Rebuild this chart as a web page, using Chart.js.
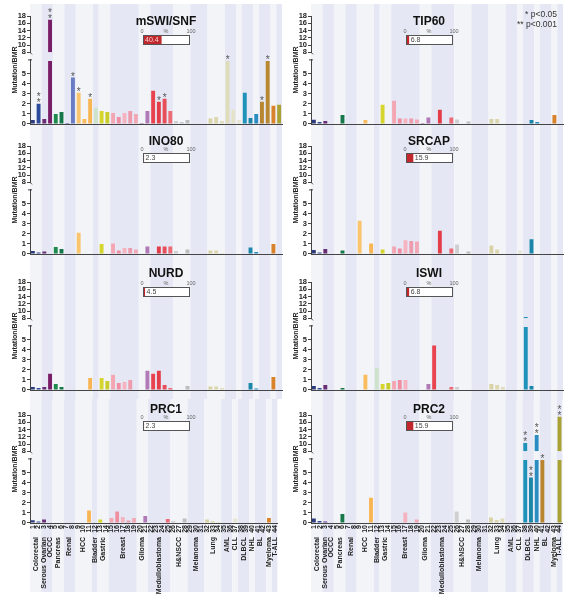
<!DOCTYPE html>
<html>
<head>
<meta charset="utf-8">
<script src="https://cdn.jsdelivr.net/npm/chart.js@4.4.1/dist/chart.umd.min.js"></script>
<style>
  html, body { margin: 0; padding: 0; background: #fff; }
  #figure { position: relative; width: 570px; height: 599px; overflow: hidden; }
  #figure canvas { position: absolute; }
</style>
</head>
<body>
<div id="figure"></div>
<script>
// Study numbers on the x axis
var studies = ['1','2','3','4','5','6','7','8','9','10','11','12','13','14','15','16','17','18','19','20','21','22',
               '23','24','25','26','27','28','29','30','31','32','33','34','35','36','37','38','39','40','41','42','43','44'];

// Cancer types, first and last study of each
var groupNames = ['Colorectal','Serous Ovarian','OCCC','Pancreas','Renal','HCC','Bladder','Gastric','Breast','Glioma',
                  'Medulloblastoma','H&NSCC','Melanoma','Lung','AML','CLL','DLBCL','NHL','BL','Myeloma','T-ALL'];
var groupFirst = [1,3,4,5,7,9,12,13,15,20,22,26,29,32,35,37,38,40,41,43,44];
var groupLast  = [2,3,4,6,8,11,12,14,19,21,25,28,31,34,36,37,39,40,42,43,44];

// Background bands (the two ovarian studies share one band)
var bandFirst = [1,3,5,7,9,12,13,15,20,22,26,29,32,35,37,38,40,41,43,44];
var bandLast  = [2,4,6,8,11,12,14,19,21,25,28,31,34,36,37,39,40,42,43,44];

// One colour per study
var studyColors = [
  '#2d3c7c','#2e4a9a',
  '#6a2c72','#7a1d68',
  '#1e8a4e','#16784a',
  '#4a5b9c','#6a7cc4',
  '#fbc56e','#f9bc5e','#f8b553',
  '#cde3cb',
  '#d6d52e','#c8cd2c',
  '#f4a6b3','#f08fa2','#f5b3bf','#ee9cad','#f2a9b6',
  '#9c6aa8','#b07ab6',
  '#e8434f','#e33d49','#e84e5a','#ee6a74',
  '#cfcfcf','#c6c6c6','#bdbdbd',
  '#b9a48c','#ad9a84','#a59080',
  '#d8d3a6','#dcd7ae','#e0dcbc',
  '#dedcb9','#e4e2c8',
  '#e8e6d6',
  '#1e92b8','#1a86a8',
  '#2a8cc0',
  '#b8862f','#b98730',
  '#d8832c',
  '#a9a232'
];

// Mutation/BMR per study, one array per complex
var mswiSnf = [0.4,2.0,0.5,17.0,1.0,1.2,0.1,4.6,3.1,0.5,2.5,1.6,1.3,1.2,1.1,0.7,1.1,1.3,1.0,0.1,1.3,3.3,2.2,2.5,1.3,0.3,0.2,0.4,0,0,0,0.55,0.7,0.3,6.3,1.4,0.4,3.1,0.6,1.0,2.2,6.3,1.8,1.9];
var tip60   = [0.43,0.2,0.3,0,0,0.9,0,0,0,0.4,0,0,1.9,0,2.3,0.55,0.55,0.55,0.45,0.1,0.65,0,1.4,0,0.65,0.45,0,0.25,0,0,0,0.5,0.5,0.05,0,0,0,0,0.4,0.2,0,0,0.9,0];
var ino80   = [0.3,0.15,0.25,0,0.7,0.5,0,0,2.1,0,0,0,1.0,0,1.05,0.35,0.6,0.6,0.45,0,0.75,0,0.75,0.75,0.75,0.3,0,0.45,0,0,0,0.35,0.35,0.1,0,0,0,0,0.65,0.2,0,0,1.0,0];
var srcap   = [0.4,0.15,0.5,0,0,0.35,0,0,3.3,0,1.05,0,0.45,0,0.75,0.55,1.35,1.3,1.25,0,0,0,2.3,0,0.55,0.95,0,0.25,0,0,0,0.85,0.45,0,0,0,0.35,0,1.45,0,0,0,0,0];
var nurd    = [0.3,0.2,0.3,1.6,0.6,0.3,0,0,0,0,1.2,0,1.2,0.9,1.5,0.7,0.8,1.0,0,0,1.9,1.6,1.9,0.5,0.2,0,0,0.4,0,0,0,0.35,0.35,0.2,0,0,0,0,0.7,0.15,0,0,1.3,0];
var iswi    = [0.4,0.2,0.5,0,0,0.2,0,0,0,1.5,0,2.2,0.6,0.7,0.9,1.0,1.0,0,0,0,0.6,4.4,0,0,0.3,0.3,0,0,0,0,0,0.6,0.5,0.3,0,0,0,8.4,0.4,0,0,0,0,0];
var prc1    = [0.27,0.15,0.35,0,0,0,0,0,0,0,1.25,0,0.35,0,0.5,1.15,0.6,0.25,0.5,0,0.7,0,0,0,0.4,0.2,0,0.45,0,0,0,0.35,0.2,0.1,0,0,0.45,0,0,0,0,0,0.5,0];
var prc2    = [0.45,0.2,0.15,0,0,0.9,0,0,0,0,2.5,0,0,0,0,0,1.05,0,0.35,0,0,0,0,0,0,1.15,0,0.35,0,0,0,0.55,0.3,0.45,0,0,0,10.3,4.5,12.5,6.3,0,0,17.5];

// Significant studies: [study, marks]
var mswiSnfSig = [[2,'**'],[4,'**'],[8,'*'],[9,'*'],[11,'*'],[23,'*'],[24,'*'],[35,'*'],[41,'*'],[42,'*']];
var prc2Sig    = [[38,'**'],[39,'**'],[40,'**'],[41,'*'],[44,'**']];

// Complex names and share of samples mutated (%)
var complexNames = ['mSWI/SNF','TIP60','INO80','SRCAP','NURD','ISWI','PRC1','PRC2'];
var complexPct   = [40.4, 6.8, 2.3, 15.9, 4.5, 6.8, 2.3, 15.9];
var complexData  = [mswiSnf, tip60, ino80, srcap, nurd, iswi, prc1, prc2];
var complexSig   = [mswiSnfSig, [], [], [], [], [], [], prc2Sig];

// layout of the 4 x 2 grid
var rowTop = [0, 130, 266, 399], rowHeight = [130, 136, 133, 200];
var colLeft = [0, 281], colWidth = [285, 289];
var xAxisHeight = [6, 12, 9, 76];
var titleY = [22, 12, 8, 11], boxY = [35, 23, 21, 22];
var boxX = [143, 125], boxW = 46, boxH = 9;

var FONT = '"Liberation Sans", Arial, sans-serif';
var LAVENDER = '#e5e8f4', LIGHT = '#f3f4f7', AXIS = '#444';

// clip lower part, upper part only for bars above the break
var BREAK_LOW = 6.25, BREAK_HIGH = 8;

var decor = {
  id: 'decor',
  beforeDraw: function(chart, args, o) {
    var ctx = chart.ctx, xs = chart.scales.x;
    var half = (xs.getPixelForValue(1) - xs.getPixelForValue(0)) / 2;
    ctx.save();
    bandFirst.forEach(function(f, i) {
      var x0 = xs.getPixelForValue(f - 1) - half;
      var x1 = xs.getPixelForValue(bandLast[i] - 1) + half;
      ctx.fillStyle = i % 2 ? LAVENDER : LIGHT;
      ctx.fillRect(x0, o.bandTop, x1 - x0, o.bandBottom - o.bandTop);
    });
    ctx.restore();
  },
  afterDraw: function(chart, args, o) {
    var ctx = chart.ctx, area = chart.chartArea, xs = chart.scales.x;
    ctx.save();

    // y axis title
    ctx.save();
    ctx.translate(15, (area.top + area.bottom) / 2);
    ctx.rotate(-Math.PI / 2);
    ctx.font = 'bold 7px ' + FONT;
    ctx.fillStyle = '#222';
    ctx.textAlign = 'center';
    ctx.textBaseline = 'middle';
    ctx.fillText('Mutation/BMR', 0, 0);
    ctx.restore();

    // break marks
    var yTop = chart.scales.yTop, yBot = chart.scales.yBot;
    ctx.strokeStyle = AXIS;
    ctx.lineWidth = 1;
    ctx.beginPath();
    ctx.moveTo(area.left - 2, yBot.top + 0.5);
    ctx.lineTo(area.left + 2, yBot.top + 0.5);
    ctx.moveTo(area.left, yTop.bottom);
    ctx.lineTo(area.left + 2, yTop.bottom + 2);
    ctx.stroke();

    // title and percentage box
    var bx = o.boxX, by = o.boxY;
    ctx.fillStyle = '#111';
    ctx.font = 'bold 12px ' + FONT;
    ctx.textAlign = 'center';
    ctx.textBaseline = 'middle';
    ctx.fillText(o.title, bx + boxW / 2, o.titleY);

    ctx.font = '5.5px ' + FONT;
    ctx.fillStyle = '#666';
    ctx.textBaseline = 'alphabetic';
    ctx.fillText('0', bx - 1, by - 2);
    ctx.fillText('%', bx + boxW / 2, by - 2);
    ctx.fillText('100', bx + boxW + 2, by - 2);

    ctx.fillStyle = '#fff';
    ctx.fillRect(bx, by, boxW, boxH);
    var fw = boxW * o.pct / 100;
    ctx.fillStyle = '#c1272d';
    ctx.fillRect(bx, by, Math.max(fw, 1), boxH);
    ctx.strokeStyle = '#555';
    ctx.strokeRect(bx + 0.5, by + 0.5, boxW, boxH);
    ctx.font = '7px ' + FONT;
    ctx.textAlign = 'left';
    ctx.textBaseline = 'middle';
    var label = o.pct.toFixed(1);
    if (fw > ctx.measureText(label).width + 4) {
      ctx.fillStyle = '#f6d2d2';
      ctx.fillText(label, bx + 2, by + boxH / 2 + 0.5);
    } else {
      ctx.fillStyle = '#444';
      ctx.fillText(label, bx + Math.max(fw, 1) + 1.5, by + boxH / 2 + 0.5);
    }

    // significance stars
    ctx.font = '10px ' + FONT;
    ctx.fillStyle = '#555';
    ctx.textAlign = 'center';
    ctx.textBaseline = 'alphabetic';
    o.sig.forEach(function(s) {
      var v = o.values[s[0] - 1];
      var el = chart.getDatasetMeta(v > BREAK_HIGH ? 1 : 0).data[s[0] - 1];
      for (var k = 0; k < s[1].length; k++) {
        ctx.fillText('*', el.x, el.y + 2 - 6 * k);
      }
    });

    // p value key
    if (o.key) {
      ctx.font = '8.5px ' + FONT;
      ctx.fillStyle = '#333';
      ctx.textAlign = 'right';
      ctx.textBaseline = 'middle';
      ctx.fillText('* p<0.05', 276, 15);
      ctx.fillText('** p<0.001', 276, 24.5);
    }

    // cancer type names under the study numbers
    if (o.groups) {
      ctx.font = 'bold 7px ' + FONT;
      ctx.fillStyle = '#222';
      ctx.textAlign = 'right';
      ctx.textBaseline = 'middle';
      groupNames.forEach(function(name, i) {
        var x = (xs.getPixelForValue(groupFirst[i] - 1) + xs.getPixelForValue(groupLast[i] - 1)) / 2;
        ctx.save();
        ctx.translate(x, 138);
        ctx.rotate(-Math.PI / 2);
        ctx.fillText(name, 0, 0);
        ctx.restore();
      });
    }
    ctx.restore();
  }
};

var figure = document.getElementById('figure');

function fixWidth(s) { s.width = 30; }

complexNames.forEach(function(name, i) {
  var row = Math.floor(i / 2), col = i % 2;
  var values = complexData[i];
  var bottomRow = row === 3;

  var canvas = document.createElement('canvas');
  canvas.width = colWidth[col];
  canvas.height = rowHeight[row];
  canvas.style.left = colLeft[col] + 'px';
  canvas.style.top = rowTop[row] + 'px';
  figure.appendChild(canvas);

  var yTicks = {
    color: '#222', padding: 1, autoSkip: false,
    font: { family: FONT, size: 7.5, weight: 'bold' }
  };

  new Chart(canvas, {
    type: 'bar',
    data: {
      labels: studies,
      datasets: [
        {
          yAxisID: 'yBot',
          data: values.map(function(v) { return Math.min(v, BREAK_LOW); }),
          backgroundColor: studyColors,
          grouped: false, barPercentage: 0.68, categoryPercentage: 1
        },
        {
          yAxisID: 'yTop',
          data: values.map(function(v) { return v > BREAK_HIGH ? [BREAK_HIGH, v] : null; }),
          backgroundColor: studyColors,
          grouped: false, barPercentage: 0.68, categoryPercentage: 1
        }
      ]
    },
    options: {
      responsive: false,
      animation: false,
      devicePixelRatio: 1,
      layout: { padding: { top: 16, left: 0, right: colWidth[col] - 282, bottom: 0 } },
      plugins: {
        legend: { display: false },
        tooltip: { enabled: false },
        decor: {
          title: name, pct: complexPct[i], values: values, sig: complexSig[i],
          titleY: titleY[row], boxY: boxY[row], boxX: boxX[col],
          key: i === 1, groups: bottomRow,
          bandTop: row === 0 ? 4 : 0,
          bandBottom: bottomRow ? 193 : rowHeight[row]
        }
      },
      scales: {
        x: {
          type: 'category',
          offset: true,
          grid: { display: false, drawTicks: false },
          border: { color: AXIS, width: 1 },
          ticks: {
            display: bottomRow, autoSkip: false, minRotation: 90, maxRotation: 90, padding: 2,
            color: '#222', font: { family: FONT, size: 7, weight: 'bold' }
          },
          afterFit: function(s) { s.height = xAxisHeight[row]; }
        },
        yTop: {
          type: 'linear', position: 'left', stack: 'v', stackWeight: 36, weight: 3,
          min: 8, max: 18,
          ticks: Object.assign({ stepSize: 2 }, yTicks),
          grid: { drawOnChartArea: false, tickLength: 3, color: AXIS },
          border: { color: AXIS, width: 1 },
          afterFit: fixWidth
        },
        yGap: {
          type: 'linear', position: 'left', stack: 'v', stackWeight: 7, weight: 2,
          min: 0, max: 1,
          ticks: { display: false },
          grid: { display: false },
          border: { display: false },
          afterFit: fixWidth
        },
        yBot: {
          type: 'linear', position: 'left', stack: 'v', stackWeight: 64, weight: 1,
          min: 0, max: 6.4,
          ticks: Object.assign({ stepSize: 1 }, yTicks),
          grid: { drawOnChartArea: false, tickLength: 3, color: AXIS },
          border: { color: AXIS, width: 1 },
          afterBuildTicks: function(s) {
            s.ticks = s.ticks.filter(function(t) { return Number.isInteger(t.value); });
          },
          afterFit: fixWidth
        }
      }
    },
    plugins: [decor]
  });
});
</script>
</body>
</html>
